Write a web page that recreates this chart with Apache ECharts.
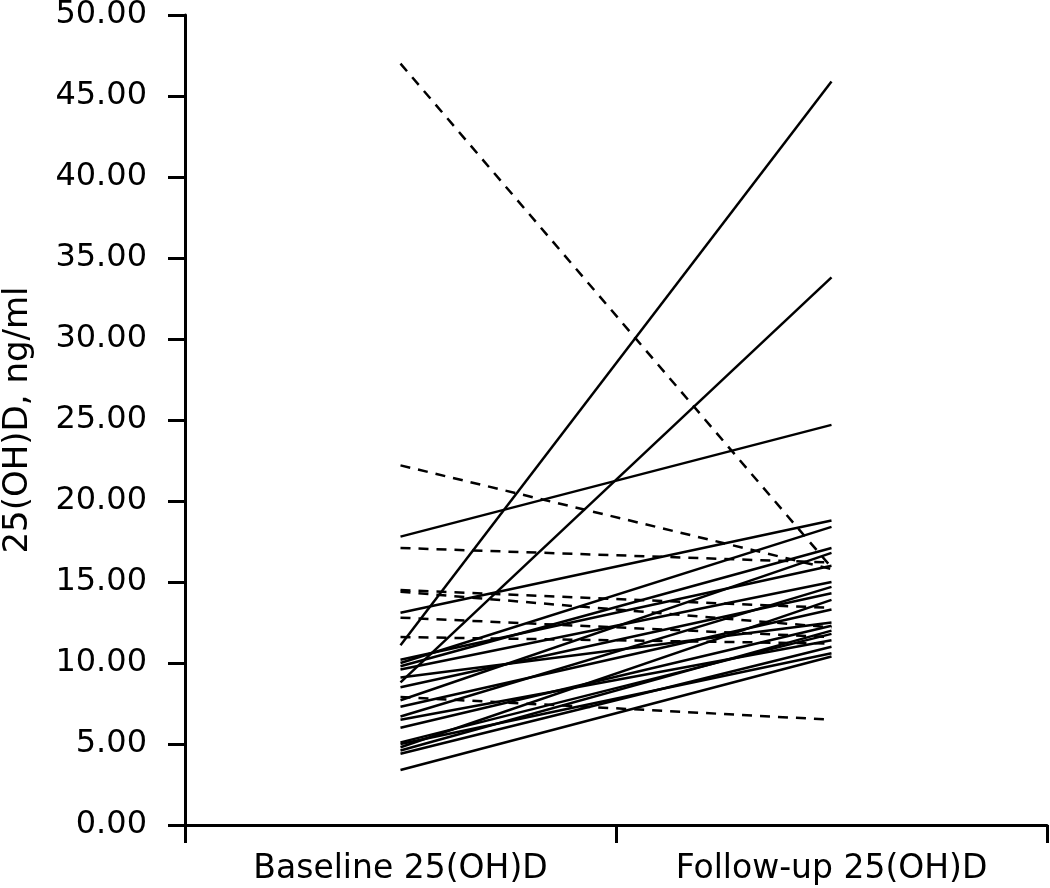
<!DOCTYPE html>
<html>
<head>
<meta charset="utf-8">
<script src="https://cdn.jsdelivr.net/npm/echarts@6/dist/echarts.min.js"></script>
<style>html,body{margin:0;padding:0;background:#fff;}#c{width:1050px;height:888px;}</style>
</head>
<body>
<div id="c"></div>
<script>
const categories = ['Baseline 25(OH)D', 'Follow-up 25(OH)D'];
const yTicks = [0, 5, 10, 15, 20, 25, 30, 35, 40, 45, 50];
// each patient: baseline value and follow-up value (ng/ml)
const baseline = [17.8, 11.1, 8.8, 13.1, 10.0, 9.8, 7.7, 10.2, 9.6, 6.7, 8.5, 4.8, 7.3, 9.1, 6.0, 4.6, 5.1, 6.5, 4.4, 5.0, 3.4,
                  47.0, 22.2, 17.1, 14.5, 14.4, 12.8, 11.6, 7.9];
const followup = [24.7, 45.9, 33.8, 18.8, 18.4, 17.1, 16.8, 16.0, 15.0, 14.7, 14.3, 13.9, 13.3, 12.5, 12.3, 12.0, 11.8, 11.4, 11.0, 10.6, 10.4,
                  15.9, 15.8, 16.2, 13.4, 12.2, 11.6, 11.2, 6.5];

const FONT = 'DejaVu Sans';
const series = baseline.map((b, i) => ({
  type: 'line',
  data: [b, followup[i]],
  symbol: 'none',
  silent: true,
  animation: false,
  lineStyle: {
    color: '#000',
    width: 2.5,
    type: followup[i] < b ? [10, 8] : 'solid'
  }
}));

const chart = echarts.init(document.getElementById('c'), null, {renderer: 'canvas'});
chart.setOption({
  animation: false,
  backgroundColor: '#fff',
  grid: {left: 185, right: 3, top: 15, bottom: 63, outerBoundsMode: 'none', containLabel: false},
  xAxis: {
    type: 'category',
    data: categories,
    boundaryGap: true,
    axisLine: {lineStyle: {color: '#000', width: 3}},
    axisTick: {show: true, length: 18, alignWithLabel: false, lineStyle: {color: '#000', width: 3}},
    axisLabel: {color: '#000', fontFamily: FONT, fontSize: 33, margin: 28},
    splitLine: {show: false}
  },
  yAxis: {
    type: 'value',
    min: yTicks[0],
    max: yTicks[yTicks.length - 1],
    interval: yTicks[1] - yTicks[0],
    name: '25(OH)D, ng/ml',
    nameLocation: 'middle',
    nameGap: 150,
    nameTextStyle: {color: '#000', fontFamily: FONT, fontSize: 34},
    axisLine: {show: true, lineStyle: {color: '#000', width: 3}},
    axisTick: {show: true, length: 17, lineStyle: {color: '#000', width: 3}},
    axisLabel: {color: '#000', fontFamily: FONT, fontSize: 32, margin: 38, formatter: v => v.toFixed(2)},
    splitLine: {show: false}
  },
  series: series
});
</script>
</body>
</html>
